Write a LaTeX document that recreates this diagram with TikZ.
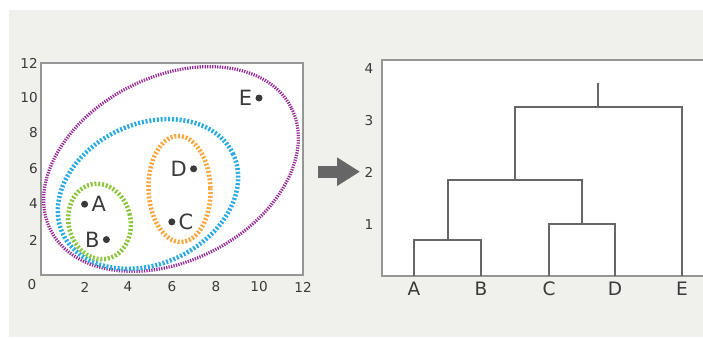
\documentclass[tikz,border=0pt]{standalone}
\usepackage{fontspec}
\setmainfont{DejaVu Sans}
\usepackage{xcolor}
\usetikzlibrary{arrows.meta,positioning}

\definecolor{panelbg}{RGB}{240,241,237}
\definecolor{framegray}{RGB}{150,150,150}
\definecolor{treegray}{RGB}{102,102,102}
\definecolor{inkgray}{RGB}{58,58,58}
\definecolor{clgreen}{RGB}{140,198,62}
\definecolor{clorange}{RGB}{249,167,62}
\definecolor{clblue}{RGB}{41,171,226}
\definecolor{clpurple}{RGB}{150,45,150}

\begin{document}
\begin{tikzpicture}[
  x=1pt,y=1pt,
  tick/.style={inner sep=0pt,text=inkgray,font=\fontsize{13.6}{14}\selectfont},
  ptlbl/.style={inner sep=0pt,text=inkgray,font=\fontsize{21}{22}\selectfont},
  leaflbl/.style={inner sep=0pt,text=inkgray,font=\fontsize{18.5}{19}\selectfont},
  datapt/.style={circle,fill=inkgray,inner sep=0pt,minimum size=7pt},
  frame/.style={draw=framegray,line width=1.5pt},
  clus/.style={line width=4.5pt,dash pattern=on 2pt off 1.8pt},
  tree/.style={draw=treegray,line width=2pt},
  bigarrow/.style={draw=treegray,line width=12pt,-{Triangle[length=23pt,width=27pt]}}
]
\useasboundingbox (0,0) rectangle (703,338);
\fill[panelbg] (9,1) rectangle (703,328);

% scatter plot
\fill[white] (41,63) rectangle (303,275);
\draw[frame] (41,63) rectangle (303,275);
\node[tick,anchor=east] (y12) at (38,275) {12};
\node[tick,anchor=east] (y10) at (38,240) {10};
\node[tick,anchor=east] (y8) at (38,205) {8};
\node[tick,anchor=east] (y6) at (38,169) {6};
\node[tick,anchor=east] (y4) at (38,134) {4};
\node[tick,anchor=east] (y2) at (38,98) {2};
\node[tick] (x0) at (32,53) {0};
\node[tick] (x2) at (85,51) {2};
\node[tick] (x4) at (128,51) {4};
\node[tick] (x6) at (172,51) {6};
\node[tick] (x8) at (216,51) {8};
\node[tick] (x10) at (259,51) {10};
\node[tick] (x12) at (303,51) {12};

\draw[clus,clpurple,line width=3.2pt,dash pattern=on 1.3pt off 1.2pt,rotate around={27:(171,169)}]
  (171,169) ellipse [x radius=135pt,y radius=92pt];
\draw[clus,clblue,rotate around={25:(148,144)}]
  (148,144) ellipse [x radius=94pt,y radius=70pt];
\draw[clus,clgreen,rotate around={12:(99.5,116.5)}]
  (99.5,116.5) ellipse [x radius=31pt,y radius=38pt];
\draw[clus,clorange,rotate around={2:(179.5,149)}]
  (179.5,149) ellipse [x radius=31pt,y radius=53pt];

\node[datapt] (a) at (84.6,133.8) {};
\node[datapt] (b) at (106.4,98.4) {};
\node[datapt] (c) at (171.8,116.1) {};
\node[datapt] (d) at (193.6,169.2) {};
\node[datapt] (e) at (259,240) {};
\node[ptlbl,right=3pt of a] (la) {A};
\node[ptlbl,left=3pt of b] (lb) {B};
\node[ptlbl,right=3pt of c] (lc) {C};
\node[ptlbl,left=3pt of d] (ld) {D};
\node[ptlbl,left=3pt of e] (le) {E};

% arrow
\coordinate (arrfrom) at (318,166.3);
\coordinate (arrto) at (360,166.3);
\draw[bigarrow] (arrfrom) -- (arrto);

% dendrogram
\fill[white] (382,62) rectangle (703,278);
\draw[frame] (703,278) -- (382,278) -- (382,62) -- (703,62);
\node[tick] (h4) at (369,269) {4};
\node[tick] (h3) at (369,217) {3};
\node[tick] (h2) at (369,165.4) {2};
\node[tick] (h1) at (369,113.7) {1};

\coordinate (ta) at (414,62);
\coordinate (tb) at (481,62);
\coordinate (tc) at (549,62);
\coordinate (td) at (615,62);
\coordinate (te) at (682,62);
\coordinate (mab) at (447.5,98);
\coordinate (mcd) at (582,114.3);
\coordinate (mabcd) at (514.75,157.7);
\coordinate (mall) at (598.4,230.7);
\coordinate (root) at (598.4,255.3);
\draw[tree] (ta) |- (mab) -| (tb);
\draw[tree] (tc) |- (mcd) -| (td);
\draw[tree] (mab) |- (mabcd) -| (mcd);
\draw[tree] (mabcd) |- (mall) -| (te);
\draw[tree] (mall) -- (root);

\node[leaflbl] (na) at (414,49) {A};
\node[leaflbl] (nb) at (481,49) {B};
\node[leaflbl] (nc) at (549,49) {C};
\node[leaflbl] (nd) at (615,49) {D};
\node[leaflbl] (ne) at (682,49) {E};
\end{tikzpicture}
\end{document}
